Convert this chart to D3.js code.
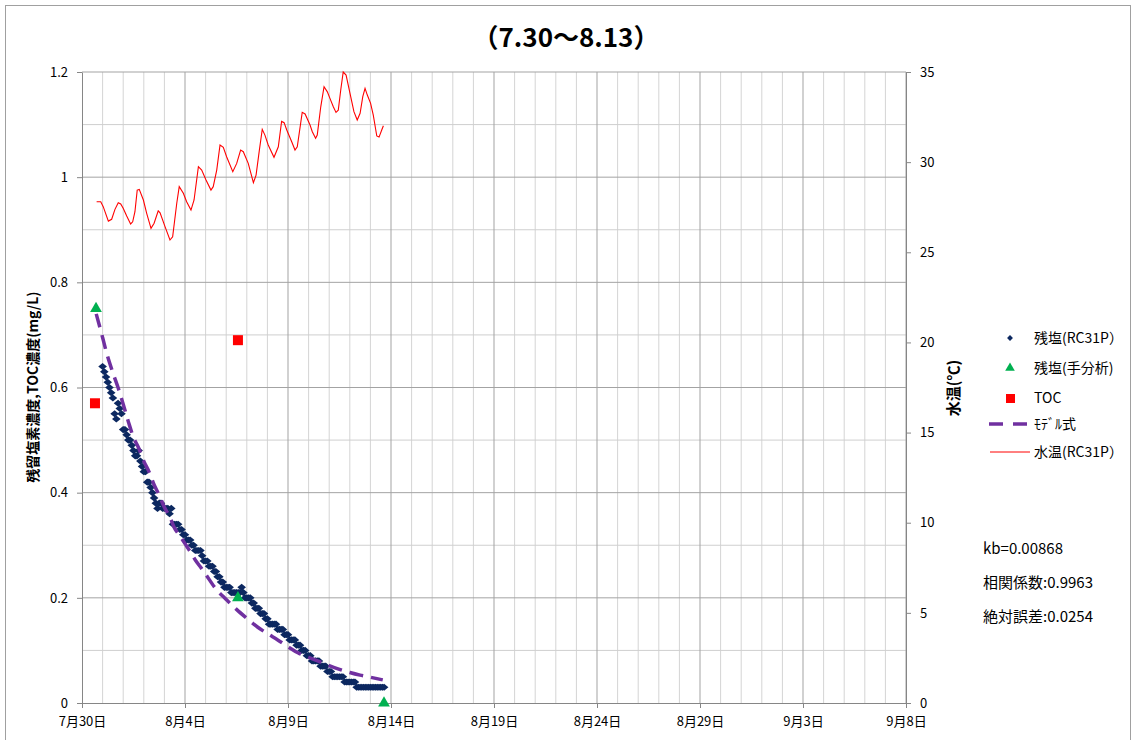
<!DOCTYPE html>
<html>
<head>
<meta charset="utf-8">
<script src="https://cdn.jsdelivr.net/npm/d3@7"></script>
<style>
  body { margin: 0; background: #fff; }
  svg { font-family: "Noto Sans CJK JP", "Noto Sans", sans-serif; }
</style>
</head>
<body>
<svg id="chart" width="1132" height="740"></svg>
<script>
// days counted from 7/30
const xTicks = [0, 5, 10, 15, 20, 25, 30, 35, 40];
const xTickLabels = ["7月30日", "8月4日", "8月9日", "8月14日", "8月19日", "8月24日", "8月29日", "9月3日", "9月8日"];
const yTicks = [0, 0.2, 0.4, 0.6, 0.8, 1, 1.2];
const y2Ticks = [0, 5, 10, 15, 20, 25, 30, 35];

// 残塩(RC31P) every 2 hours from day 1.0
const chlorineStart = 1.0;
const chlorineStep = 1 / 12;
const chlorine = [
  0.64, 0.63, 0.62, 0.61, 0.60, 0.59, 0.58, 0.55, 0.54, 0.57, 0.56, 0.55,
  0.52, 0.52, 0.51, 0.50, 0.50, 0.49, 0.48, 0.47, 0.47, 0.48, 0.46, 0.45,
  0.44, 0.44, 0.42, 0.42, 0.41, 0.40, 0.39, 0.38, 0.37, 0.38, 0.38, 0.37,
  0.37, 0.37, 0.37, 0.36, 0.37, 0.34, 0.34, 0.34, 0.34, 0.33, 0.33, 0.32,
  0.32, 0.31, 0.31, 0.31, 0.30, 0.30, 0.29, 0.29, 0.29, 0.29, 0.28, 0.27,
  0.27, 0.27, 0.26, 0.26, 0.26, 0.25, 0.25, 0.24, 0.24, 0.23, 0.23, 0.22,
  0.22, 0.22, 0.22, 0.21, 0.21, 0.21, 0.21, 0.21, 0.21, 0.22, 0.21, 0.20,
  0.20, 0.20, 0.20, 0.19, 0.19, 0.18, 0.18, 0.18, 0.17, 0.17, 0.17, 0.16,
  0.16, 0.15, 0.15, 0.15, 0.15, 0.15, 0.14, 0.14, 0.14, 0.14, 0.13, 0.13,
  0.13, 0.12, 0.12, 0.12, 0.12, 0.11, 0.11, 0.11, 0.10, 0.10, 0.10, 0.09,
  0.09, 0.09, 0.08, 0.08, 0.08, 0.08, 0.08, 0.07, 0.07, 0.07, 0.07, 0.06,
  0.06, 0.06, 0.05, 0.05, 0.05, 0.05, 0.05, 0.05, 0.05, 0.04, 0.04, 0.04,
  0.04, 0.04, 0.04, 0.04, 0.03, 0.03, 0.03, 0.03, 0.03, 0.03, 0.03, 0.03,
  0.03, 0.03, 0.03, 0.03, 0.03, 0.03, 0.03, 0.03, 0.03
];

// 残塩(手分析)
const manualDays = [0.68, 7.57, 14.66];
const manualValues = [0.75, 0.2, 0];

// TOC
const tocDays = [0.63, 7.57];
const tocValues = [0.57, 0.69];

// モデル式
const modelDays = [0.69, 1.0, 1.2, 1.5, 1.75, 2.0, 2.25, 2.5, 2.75, 3.0, 3.25, 3.5, 3.75, 4.0, 4.25, 4.5, 4.75,
  5.0, 5.25, 5.5, 5.8, 6.0, 6.5, 7.0, 7.5, 8.0, 8.5, 9.0, 9.5, 10.0, 10.5, 11.0, 11.5, 12.0, 12.5, 13.0, 13.5, 14.0, 14.6];
const modelValues = [0.740, 0.695, 0.665, 0.628, 0.600, 0.568, 0.535, 0.505, 0.485, 0.460, 0.440, 0.415, 0.395, 0.372, 0.355, 0.332, 0.318,
  0.303, 0.288, 0.272, 0.256, 0.245, 0.217, 0.197, 0.178, 0.161, 0.145, 0.132, 0.120, 0.107, 0.095, 0.087, 0.079, 0.071, 0.064, 0.058, 0.053, 0.049, 0.044];

// 水温(RC31P)
const tempDays = [0.71, 0.91, 1.03, 1.28, 1.44, 1.60, 1.76, 1.88, 2.00, 2.17, 2.36, 2.46, 2.57, 2.68, 2.78, 2.98,
  3.14, 3.35, 3.50, 3.70, 3.79, 4.03, 4.27, 4.40, 4.60, 4.72, 4.92, 5.08, 5.29, 5.44, 5.65, 5.81, 6.02, 6.26,
  6.37, 6.54, 6.70, 6.86, 7.02, 7.32, 7.51, 7.70, 7.83, 8.07, 8.32, 8.45, 8.61, 8.75, 8.88, 9.04, 9.32, 9.53,
  9.69, 9.81, 9.94, 10.18, 10.34, 10.45, 10.69, 10.83, 11.07, 11.18, 11.34, 11.42, 11.59, 11.75, 11.91, 12.07,
  12.20, 12.33, 12.44, 12.56, 12.68, 12.82, 13.01, 13.20, 13.36, 13.50, 13.63, 13.74, 13.85, 14.01, 14.14,
  14.31, 14.42, 14.55, 14.63];
const tempValues = [27.8, 27.8, 27.53, 26.73, 26.83, 27.38, 27.75, 27.68, 27.44, 27.01, 26.57, 26.69, 27.25, 28.45, 28.49, 27.9,
  27.16, 26.33, 26.61, 27.3, 27.19, 26.42, 25.68, 25.86, 27.72, 28.64, 28.27, 27.8, 27.34, 27.9, 29.75, 29.56, 29.01, 28.45,
  28.64, 29.56, 30.95, 30.82, 30.3, 29.47, 29.93, 30.67, 30.58, 29.93, 28.86, 29.28, 30.67, 31.82, 31.5, 30.95, 30.27, 30.85,
  32.26, 32.19, 31.78, 31.13, 30.67, 30.85, 32.76, 32.67, 32.06, 31.69, 31.32, 31.5, 33.07, 34.18, 33.9, 33.44,
  33.07, 32.76, 32.88, 34.0, 35.0, 34.83, 33.82, 32.8, 32.34, 32.71, 33.63, 34.09, 33.72, 33.26, 32.61,
  31.45, 31.39, 31.78, 32.02];

const legendLabels = ["残塩(RC31P）", "残塩(手分析)", "TOC", "ﾓﾃﾞﾙ式", "水温(RC31P）"];
const notes = ["kb=0.00868", "相関係数:0.9963", "絶対誤差:0.0254"];

const svg = d3.select("#chart");
const m = {top: 72, left: 82, right: 226, bottom: 37};
const W = +svg.attr("width"), H = +svg.attr("height");
const iw = W - m.left - m.right, ih = H - m.top - m.bottom;

const x = d3.scaleLinear().domain([0, 40]).range([0, iw]);
const y = d3.scaleLinear().domain([0, 1.2]).range([ih, 0]);
const y2 = d3.scaleLinear().domain([0, 35]).range([ih, 0]);

const navy = "#0c2860", green = "#00b050", red = "#ff0000", purple = "#7030a0";
const axisColor = "#868686";

// outer border
svg.append("rect")
  .attr("x", 5.5).attr("y", 5.5)
  .attr("width", W - 7).attr("height", H)
  .attr("fill", "none").attr("stroke", "#a0a0a0");

svg.append("text")
  .attr("x", 566).attr("y", 47)
  .attr("text-anchor", "middle")
  .attr("font-size", 26).attr("font-weight", "bold")
  .text("（7.30～8.13）");

const g = svg.append("g").attr("transform", `translate(${m.left},${m.top})`);

// grid: minor every day / 0.1, major every 5 days / 0.2
const grid = g.append("g");
grid.selectAll(".vmin").data(d3.range(1, 40).filter(d => d % 5 !== 0))
  .enter().append("line")
  .attr("x1", d => x(d)).attr("x2", d => x(d))
  .attr("y1", 0).attr("y2", ih)
  .attr("stroke", "#d4d4d4");
grid.selectAll(".hmin").data(d3.range(1, 12, 2).map(d => d / 10))
  .enter().append("line")
  .attr("x1", 0).attr("x2", iw)
  .attr("y1", d => y(d)).attr("y2", d => y(d))
  .attr("stroke", "#cfcfcf");
grid.selectAll(".vmaj").data(xTicks.slice(1))
  .enter().append("line")
  .attr("x1", d => x(d)).attr("x2", d => x(d))
  .attr("y1", 0).attr("y2", ih)
  .attr("stroke", "#a3a3a3");
grid.selectAll(".hmaj").data(yTicks.slice(1))
  .enter().append("line")
  .attr("x1", 0).attr("x2", iw)
  .attr("y1", d => y(d)).attr("y2", d => y(d))
  .attr("stroke", "#a3a3a3");

// axes
const styleAxis = sel => {
  sel.select(".domain").attr("stroke", axisColor);
  sel.selectAll(".tick line").attr("stroke", axisColor);
  sel.selectAll(".tick text").attr("fill", "#000").attr("font-size", 13)
    .attr("font-family", "'Noto Sans CJK JP', sans-serif");
};

g.append("g")
  .call(d3.axisLeft(y).tickValues(yTicks).tickFormat(d3.format("")).tickSize(5).tickPadding(9).tickSizeOuter(0))
  .call(styleAxis);

g.append("g")
  .attr("transform", `translate(${iw},0)`)
  .call(d3.axisRight(y2).tickValues(y2Ticks).tickSize(5).tickPadding(9).tickSizeOuter(0))
  .call(styleAxis);

g.append("g")
  .attr("transform", `translate(0,${ih})`)
  .call(d3.axisBottom(x).tickValues(xTicks).tickFormat((d, i) => xTickLabels[i]).tickSize(5).tickPadding(9).tickSizeOuter(0))
  .call(styleAxis);

// axis titles
svg.append("text")
  .attr("transform", `translate(38,387) rotate(-90)`)
  .attr("text-anchor", "middle")
  .attr("font-size", 14).attr("font-weight", "bold")
  .text("残留塩素濃度,TOC濃度(mg/L)");
svg.append("text")
  .attr("transform", `translate(959,388) rotate(-90)`)
  .attr("text-anchor", "middle")
  .attr("font-size", 15).attr("font-weight", "bold")
  .text("水温(℃)");

// temperature line
const tempData = tempDays.map((d, i) => ({d, v: tempValues[i]}));
g.append("path")
  .attr("d", d3.line().x(p => x(p.d)).y(p => y2(p.v))(tempData))
  .attr("fill", "none").attr("stroke", red).attr("stroke-width", 1.1);

// chlorine diamonds
const chlorineData = chlorine.map((v, i) => ({d: chlorineStart + i * chlorineStep, v}));
const diamond = d3.symbol().type(d3.symbolDiamond2).size(36);
g.selectAll(".cl").data(chlorineData)
  .enter().append("path")
  .attr("transform", p => `translate(${x(p.d)},${y(p.v)}) scale(1.15,0.95)`)
  .attr("d", diamond)
  .attr("fill", navy);

// model dashed line
const modelData = modelDays.map((d, i) => ({d, v: modelValues[i]}));
g.append("path")
  .attr("d", d3.line().curve(d3.curveMonotoneX).x(p => x(p.d)).y(p => y(p.v))(modelData))
  .attr("fill", "none").attr("stroke", purple).attr("stroke-width", 3.5)
  .attr("stroke-dasharray", "14,8");

// TOC squares
g.selectAll(".toc").data(tocDays.map((d, i) => ({d, v: tocValues[i]})))
  .enter().append("rect")
  .attr("x", p => x(p.d) - 5).attr("y", p => y(p.v) - 5)
  .attr("width", 10).attr("height", 10)
  .attr("fill", red);

// manual triangles
const tri = d3.symbol().type(d3.symbolTriangle).size(60);
g.selectAll(".man").data(manualDays.map((d, i) => ({d, v: manualValues[i]})))
  .enter().append("path")
  .attr("transform", p => `translate(${x(p.d)},${y(p.v)})`)
  .attr("d", tri)
  .attr("fill", green);

// legend
const lg = svg.append("g");
const rows = [338, 368, 398, 424, 452];
lg.selectAll("text").data(legendLabels)
  .enter().append("text")
  .attr("x", 1034).attr("y", (d, i) => rows[i] + 5)
  .attr("font-size", 14)
  .text(d => d);
lg.append("path").attr("transform", `translate(1010,${rows[0]})`)
  .attr("d", d3.symbol().type(d3.symbolDiamond2).size(22)).attr("fill", navy);
lg.append("path").attr("transform", `translate(1010,${rows[1]})`)
  .attr("d", d3.symbol().type(d3.symbolTriangle).size(40)).attr("fill", green);
lg.append("rect").attr("x", 1006).attr("y", rows[2] - 4).attr("width", 9).attr("height", 9).attr("fill", red);
lg.append("line").attr("x1", 989).attr("x2", 1027).attr("y1", rows[3]).attr("y2", rows[3])
  .attr("stroke", purple).attr("stroke-width", 3.5).attr("stroke-dasharray", "14,10");
lg.append("line").attr("x1", 990).attr("x2", 1030).attr("y1", rows[4]).attr("y2", rows[4])
  .attr("stroke", red).attr("stroke-width", 1);

svg.selectAll(".note").data(notes)
  .enter().append("text")
  .attr("x", 983).attr("y", (d, i) => 554 + i * 34)
  .attr("font-size", 15)
  .text(d => d);
</script>
</body>
</html>
